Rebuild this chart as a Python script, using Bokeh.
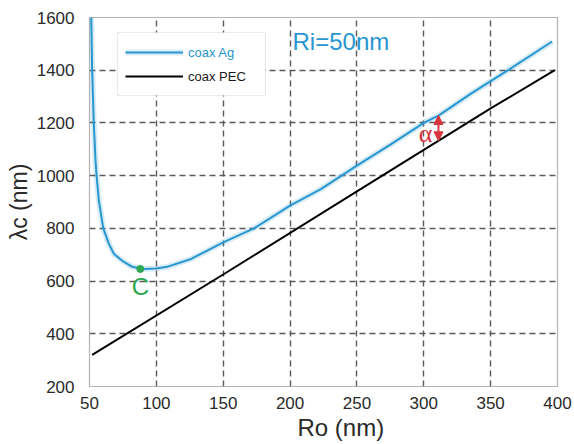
import numpy as np
from bokeh.plotting import figure
from bokeh.models import (FixedTicker, Label, Legend, LegendItem, BoxAnnotation,
                          Arrow, NormalHead, Range1d, Title)
from bokeh.embed import file_html
from bokeh.resources import INLINE

# Cut-off wavelength of the coaxial aperture vs outer radius (inner radius 50 nm)
ro_ag = [51.3, 52.0, 53.2, 54.5, 55.3, 57.0, 60.3, 64.5, 68.3, 74.5, 82, 90, 100, 108,
         126, 150, 173, 200, 223, 250, 275, 300, 311, 335, 363, 396]
lam_ag = [1600, 1400, 1200, 1057, 1000, 905, 800, 741, 703, 677, 654, 646, 648, 654,
          684, 747, 800, 886, 949, 1038, 1118, 1200, 1228, 1310, 1400, 1509]

ro_pec = [52, 150, 250, 350, 398]
lam_pec = [320, 625, 940, 1255, 1400]

# minimum of the silver curve
c_ro = 88
c_lam = 646

# outer radius where the gap between both curves is marked
alpha_ro = 311

x_ticks = [50, 100, 150, 200, 250, 300, 350, 400]
y_ticks = [200, 400, 600, 800, 1000, 1200, 1400, 1600]

BLUE = "#2896cf"
RED = "#d8343c"
GREEN = "#2fa84f"
FONT = "Liberation Sans"

p = figure(width=574, height=444, output_backend="svg", toolbar_location=None,
           x_range=Range1d(50, 400), y_range=Range1d(200, 1600),
           min_border_left=89, min_border_right=17, min_border_top=17,
           min_border_bottom=58)
p.background_fill_color = "white"
p.border_fill_color = "white"
p.outline_line_color = "#b4b4b4"
p.outline_line_width = 1.2

for ax, ticks in ((p.xaxis[0], x_ticks), (p.yaxis[0], y_ticks)):
    ax.ticker = FixedTicker(ticks=ticks)
    ax.axis_line_color = None
    ax.major_tick_line_color = None
    ax.minor_tick_line_color = None
    ax.major_label_text_font = FONT
    ax.major_label_text_font_size = "17px"
    ax.major_label_text_color = "#2a2a2a"
    ax.axis_label_text_font = FONT
    ax.axis_label_text_font_style = "normal"
    ax.axis_label_text_color = "#2a2a2a"
    ax.axis_label_text_font_size = "23px"

p.xaxis.major_label_standoff = 4
p.yaxis.axis_label = "λc (nm)"
p.yaxis.major_label_standoff = 9
p.yaxis.axis_label_standoff = 2

# x-axis title, set a little right of the frame centre
p.add_layout(Title(text="Ro (nm)", align="left", offset=208, standoff=0,
                   text_font=FONT, text_font_size="24px", text_font_style="normal",
                   text_color="#2a2a2a"), "below")

p.xgrid.ticker = FixedTicker(ticks=x_ticks[1:-1])
p.ygrid.ticker = FixedTicker(ticks=y_ticks[1:-1])
for g in (p.xgrid[0], p.ygrid[0]):
    g.grid_line_color = "#5a5a5a"
    g.grid_line_dash = "6 4"
    g.grid_line_width = 1.4

halo = p.line(ro_ag, lam_ag, line_color=BLUE, line_width=6, line_alpha=0.18)
ag = p.line(ro_ag, lam_ag, line_color=BLUE, line_width=2)
pec = p.line(ro_pec, lam_pec, line_color="black", line_width=2)

p.scatter([c_ro], [c_lam], size=7, color=GREEN)
p.add_layout(Label(x=c_ro, y=c_lam, text="C", text_color=GREEN,
                   text_font=FONT, text_font_size="24px", text_align="center",
                   text_baseline="top", y_offset=-4))

top = float(np.interp(alpha_ro, ro_ag, lam_ag))
bottom = float(np.interp(alpha_ro, ro_pec, lam_pec))
p.add_layout(Arrow(x_start=alpha_ro, y_start=(top + bottom) / 2, x_end=alpha_ro, y_end=top,
                   line_color=RED, line_width=2,
                   end=NormalHead(size=9, fill_color=RED, line_color=RED)))
p.add_layout(Arrow(x_start=alpha_ro, y_start=(top + bottom) / 2, x_end=alpha_ro, y_end=bottom,
                   line_color=RED, line_width=2,
                   end=NormalHead(size=9, fill_color=RED, line_color=RED)))
p.add_layout(Label(x=alpha_ro, y=(top + bottom) / 2, text="α", text_color=RED,
                   text_font="Liberation Serif", text_font_size="26px",
                   text_align="right", text_baseline="middle", x_offset=-6, y_offset=-5))

p.add_layout(Label(x=238, y=1510, text="Ri=50nm", text_color=BLUE, text_font=FONT,
                   text_font_size="24px", text_align="center", text_baseline="middle"))

# legend frame and its two entries
p.add_layout(BoxAnnotation(left=70.9, right=181.6, top=1543, bottom=1304,
                           fill_color="white", fill_alpha=1.0,
                           line_color="#b8b8b8", line_width=1.2))
leg_ag = Legend(items=[LegendItem(label="coax Ag", renderers=[halo, ag])],
                location=(36, 326), label_text_color=BLUE)
leg_pec = Legend(items=[LegendItem(label="coax PEC", renderers=[pec])],
                 location=(36, 302), label_text_color="#1a1a1a")
for lg in (leg_ag, leg_pec):
    lg.padding = 0
    lg.margin = 0
    lg.spacing = 0
    lg.glyph_width = 58
    lg.glyph_height = 16
    lg.label_height = 16
    lg.label_standoff = 5
    lg.label_text_font = FONT
    lg.label_text_font_size = "13px"
    lg.label_text_baseline = "middle"
    lg.border_line_color = None
    lg.background_fill_alpha = 0
    p.add_layout(lg)

open("out.html", "w").write(file_html(p, INLINE))
